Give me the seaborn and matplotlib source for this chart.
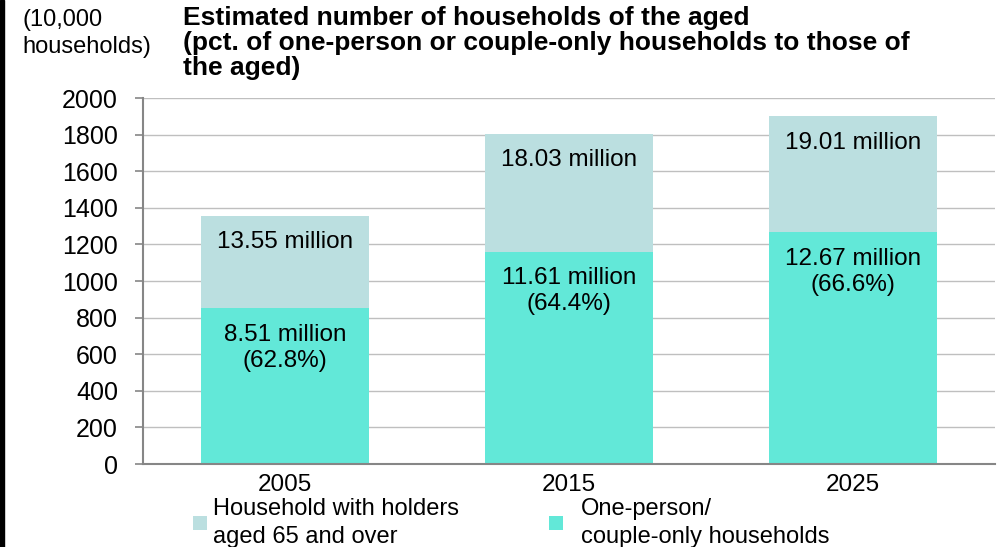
import matplotlib
matplotlib.use("Agg")
import matplotlib.pyplot as plt
from matplotlib.patches import Rectangle
import seaborn as sns
import pandas as pd

# Data (10,000 households)
years = ["2005", "2015", "2025"]
total_aged = [1355, 1803, 1901]
one_person_couple = [851, 1161, 1267]
legend_labels = ["Household with holders\naged 65 and over", "One-person/\ncouple-only households"]
y_ticks = [0, 200, 400, 600, 800, 1000, 1200, 1400, 1600, 1800, 2000]

c_total = "#BBDFE0"
c_one = "#62E8D8"

sns.set_theme(style="white")
plt.rcParams["font.family"] = ["Liberation Sans", "DejaVu Sans"]
plt.rcParams["text.color"] = "black"

df = pd.DataFrame({"year": years, "total": total_aged, "one": one_person_couple})

fig = plt.figure(figsize=(10, 5.47), dpi=100)
ax = fig.add_axes([0.143, 0.1517, 0.852, 0.6691])

sns.barplot(data=df, x="year", y="total", color=c_total, width=0.59,
            saturation=1, ax=ax, linewidth=0)
sns.barplot(data=df, x="year", y="one", color=c_one, width=0.59,
            saturation=1, ax=ax, linewidth=0)

ax.set_xlim(-0.5, 2.5)
ax.set_ylim(0, 2000)
ax.set_yticks(y_ticks)
ax.set_yticklabels([str(v) for v in y_ticks], fontsize=18)
ax.yaxis.grid(True, color="#BFBFBF", linewidth=1.0)
ax.set_axisbelow(True)
ax.set_xlabel("")
ax.set_ylabel("")

# x ticks at category boundaries, labels at centers
ax.set_xticks([-0.5, 0.5, 1.5, 2.5])
ax.set_xticklabels(["", "", "", ""])
ax.set_xticks([0, 1, 2], minor=True)
ax.set_xticklabels(years, minor=True, fontsize=17.5)
ax.tick_params(axis="x", which="major", direction="out", length=6, width=1.2, color="#868686")
ax.tick_params(axis="x", which="minor", length=0, pad=7.5, labelcolor="black")
ax.tick_params(axis="y", direction="out", length=6, width=1.2, color="#868686", pad=12,
               left=True, labelcolor="black")

for s in ["top", "right"]:
    ax.spines[s].set_visible(False)
for s in ["left", "bottom"]:
    ax.spines[s].set_color("#868686")
    ax.spines[s].set_linewidth(1.5)

# annotations
for i, (t, o) in enumerate(zip(total_aged, one_person_couple)):
    ax.annotate(f"{t/100:.2f} million", xy=(i, t), xytext=(0, -19), textcoords="offset points",
                ha="center", va="center", fontsize=17.5, color="black")
    ax.annotate(f"{o/100:.2f} million", xy=(i, o), xytext=(0, -19), textcoords="offset points",
                ha="center", va="center", fontsize=17.5, color="black")
    ax.annotate(f"({o/t*100:.1f}%)", xy=(i, o), xytext=(0, -38), textcoords="offset points",
                ha="center", va="center", fontsize=17.5, color="black")

# title and unit label
fig.text(0.183, 1 - 6/547, "Estimated number of households of the aged\n(pct. of one-person or couple-only households to those of\nthe aged)",
         ha="left", va="top", fontsize=19, fontweight="bold", linespacing=1.04)
fig.text(0.022, 1 - 9/547, "(10,000\nhouseholds)", ha="left", va="top", fontsize=17, linespacing=1.3)

# legend (manual layout)
W, H = 1000, 547
sq_x = [193, 549]
tx_x = [213, 581]
for k, lab in enumerate(legend_labels):
    color = c_total if k == 0 else c_one
    fig.patches.append(Rectangle((sq_x[k] / W, 1 - 530 / H), 14 / W, 14 / H,
                                 transform=fig.transFigure, facecolor=color, edgecolor="none"))
    fig.text(tx_x[k] / W, 1 - 523 / H, lab, ha="left", va="center", fontsize=17,
             linespacing=1.3, color="black")

fig.patches.append(Rectangle((0, 0), 4 / W, 1, transform=fig.transFigure, color="black", zorder=10))

fig.savefig("out.png", dpi=100)
